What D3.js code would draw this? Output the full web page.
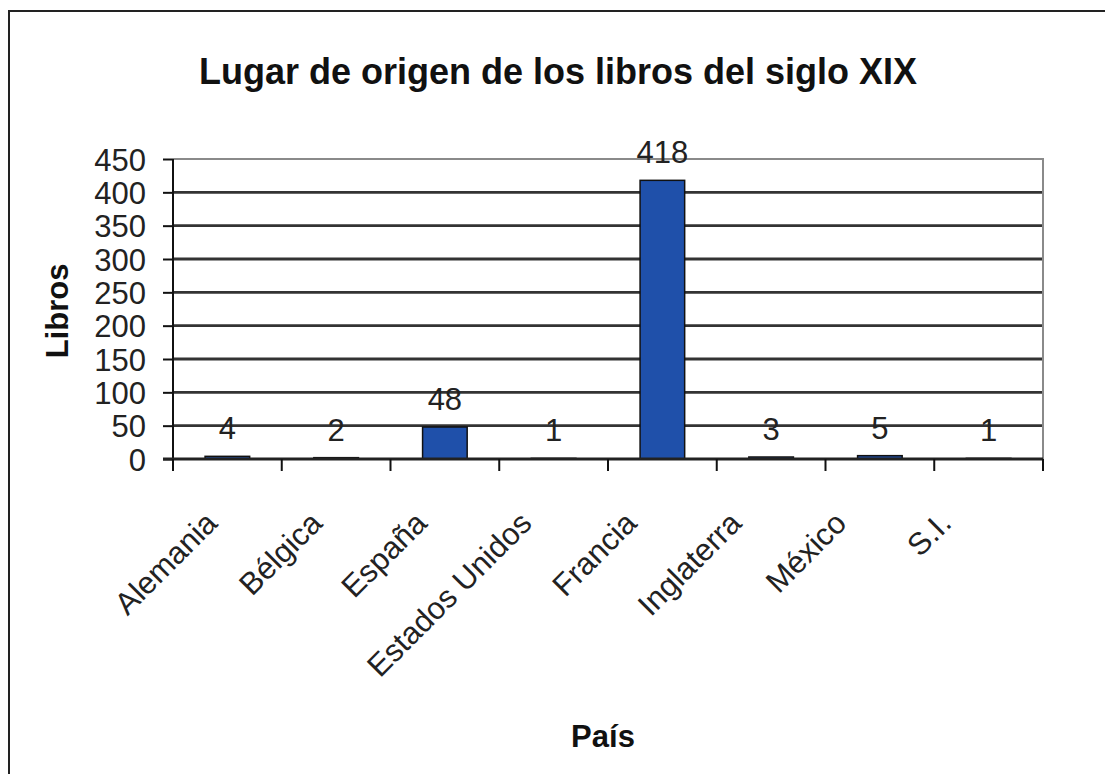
<!DOCTYPE html>
<meta charset="utf-8">
<head>
<style type='text/css'>
  body {
    margin: 0;
    background: #fff;
    font-family: 'Liberation Sans', Arial, sans-serif;
  }
  .axis .domain {
    display: none;
  }
  .axis text {
    font-family: 'Liberation Sans', Arial, sans-serif;
    fill: #222;
  }
</style>
</head>
<body>
<svg id="chart" width="1105" height="774"></svg>
<script src="https://cdnjs.cloudflare.com/ajax/libs/d3/7.8.5/d3.min.js"></script>
<script>
// chart data
var paises = ["Alemania", "Bélgica", "España", "Estados Unidos", "Francia", "Inglaterra", "México", "S.I."];
var libros = [4, 2, 48, 1, 418, 3, 5, 1];
var yTicks = [0, 50, 100, 150, 200, 250, 300, 350, 400, 450];

var titulo = "Lugar de origen de los libros del siglo XIX",
    tituloY = "Libros",
    tituloX = "País";

var svg = d3.select("#chart");

// plot area (don't call it "top", that's window.top)
var pLeft = 173, pRight = 1043, pTop = 159, pBottom = 459;

var x = d3.scaleBand()
    .domain(paises)
    .range([pLeft, pRight])
    .paddingInner(0);

// rotated labels sit a bit left of the band centers
var xLabel = d3.scalePoint()
    .domain(paises)
    .range([219, 953]);

var y = d3.scaleLinear()
    .domain([0, 450])
    .range([pBottom, pTop]);

// outer frame
svg.append("rect")
    .attr("x", 9)
    .attr("y", 11)
    .attr("width", 1120)
    .attr("height", 800)
    .attr("fill", "none")
    .attr("stroke", "#222")
    .attr("stroke-width", 2);

// title
svg.append("text")
    .attr("x", 558)
    .attr("y", 84)
    .attr("text-anchor", "middle")
    .attr("font-size", "36px")
    .attr("font-weight", "bold")
    .attr("fill", "#111")
    .text(titulo);

// gridlines
svg.append("g")
  .selectAll("line")
  .data(yTicks.filter(function(d) { return d > 0 && d < 450; }))
  .enter().append("line")
    .attr("x1", pLeft)
    .attr("x2", pRight)
    .attr("y1", function(d) { return y(d); })
    .attr("y2", function(d) { return y(d); })
    .attr("stroke", "#333")
    .attr("stroke-width", 2.8);

// plot area border (top + right)
svg.append("path")
    .attr("d", "M" + pLeft + "," + y(450) + "H" + pRight + "V" + y(0))
    .attr("fill", "none")
    .attr("stroke", "#8a8a8a")
    .attr("stroke-width", 2);

// bars
var bw = x.bandwidth() * 0.41;
svg.append("g")
  .selectAll("rect")
  .data(libros)
  .enter().append("rect")
    .attr("x", function(d, i) { return x(paises[i]) + x.bandwidth() / 2 - bw / 2; })
    .attr("y", function(d) { return y(d); })
    .attr("width", bw)
    .attr("height", function(d) { return y(0) - y(d); })
    .attr("fill", "#1f50aa")
    .attr("stroke", "#111")
    .attr("stroke-width", 1.5);

// value labels
svg.append("g")
  .selectAll("text")
  .data(libros)
  .enter().append("text")
    .attr("x", function(d, i) { return x(paises[i]) + x.bandwidth() / 2; })
    .attr("y", function(d) { return y(d) - 17; })
    .attr("text-anchor", "middle")
    .attr("font-size", "31px")
    .attr("fill", "#222")
    .text(function(d) { return d; });

// y axis
var yAxis = svg.append("g")
    .attr("class", "axis")
    .attr("transform", "translate(" + pLeft + ",0)")
    .call(d3.axisLeft(y).tickValues(yTicks).tickSize(10).tickPadding(17));
yAxis.selectAll("text").attr("font-size", "31px").attr("dy", "0.36em");
yAxis.selectAll("line").attr("stroke", "#111").attr("stroke-width", 2);
yAxis.append("line")
    .attr("y1", y(0))
    .attr("y2", y(450))
    .attr("stroke", "#111")
    .attr("stroke-width", 2);

// x axis
var xAxis = svg.append("g")
    .attr("class", "axis")
    .attr("transform", "translate(0," + pBottom + ")");
xAxis.append("line")
    .attr("x1", pLeft - 10)
    .attr("x2", pRight)
    .attr("stroke", "#222")
    .attr("stroke-width", 2.8);
xAxis.selectAll(".tk")
  .data(paises.map(function(p) { return x(p); }).concat([pRight]))
  .enter().append("line")
    .attr("class", "tk")
    .attr("x1", function(d) { return d; })
    .attr("x2", function(d) { return d; })
    .attr("y1", 0)
    .attr("y2", 12)
    .attr("stroke", "#111")
    .attr("stroke-width", 2);
xAxis.selectAll(".lbl")
  .data(paises)
  .enter().append("text")
    .attr("class", "lbl")
    .attr("text-anchor", "end")
    .attr("font-size", "31px")
    .attr("transform", function(d) { return "translate(" + xLabel(d) + ",66) rotate(-45)"; })
    .text(function(d) { return d; });

// axis titles
svg.append("text")
    .attr("transform", "translate(68,311) rotate(-90)")
    .attr("text-anchor", "middle")
    .attr("font-size", "31px")
    .attr("font-weight", "bold")
    .attr("fill", "#111")
    .text(tituloY);

svg.append("text")
    .attr("x", 603)
    .attr("y", 747)
    .attr("text-anchor", "middle")
    .attr("font-size", "31px")
    .attr("font-weight", "bold")
    .attr("fill", "#111")
    .text(tituloX);
</script>
</body>
